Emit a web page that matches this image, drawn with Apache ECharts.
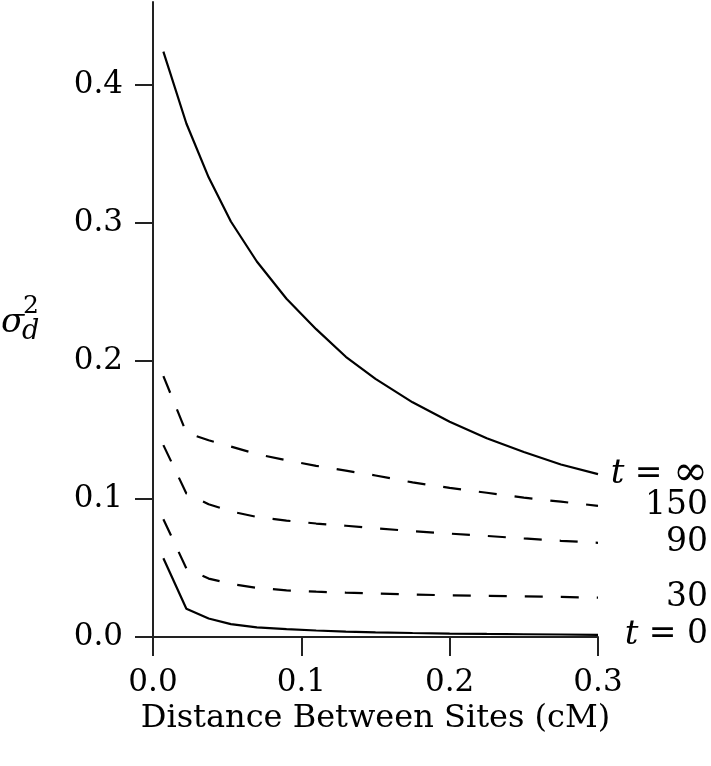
<!DOCTYPE html>
<html>
<head>
<meta charset="utf-8">
<script src="https://cdn.jsdelivr.net/npm/echarts@6/dist/echarts.min.js"></script>
<style>
html,body{margin:0;padding:0;background:#fff;}
#chart{width:711px;height:766px;}
</style>
</head>
<body>
<div id="chart"></div>
<script>
// Distance between sites (cM)
const distance = [0.007, 0.0225, 0.0375, 0.0525, 0.07, 0.09, 0.11, 0.13, 0.15, 0.175, 0.2, 0.225, 0.25, 0.275, 0.3];
// sigma_d^2 for each generation t
const tInf = [0.424, 0.372, 0.333, 0.301, 0.272, 0.245, 0.223, 0.203, 0.187, 0.170, 0.156, 0.144, 0.134, 0.125, 0.118];
const t150 = [0.189, 0.148, 0.1425, 0.138, 0.1325, 0.128, 0.124, 0.1205, 0.117, 0.112, 0.108, 0.1045, 0.101, 0.098, 0.095];
const t90  = [0.139, 0.104, 0.0962, 0.091, 0.087, 0.0843, 0.0822, 0.0806, 0.0788, 0.0767, 0.0749, 0.0732, 0.0714, 0.0697, 0.0682];
const t30  = [0.0853, 0.0497, 0.0423, 0.0385, 0.0356, 0.0338, 0.0328, 0.0321, 0.0315, 0.0308, 0.0302, 0.0298, 0.0294, 0.029, 0.0285];
const t0   = [0.057, 0.0205, 0.0134, 0.0093, 0.007, 0.0057, 0.0047, 0.0039, 0.0034, 0.0029, 0.0025, 0.0022, 0.002, 0.0018, 0.0016];
const yTicks = [0, 0.1, 0.2, 0.3, 0.4];
const xTicks = [0, 0.1, 0.2, 0.3];
const xTitle = 'Distance Between Sites (cM)';

const SERIF = '"DejaVu Serif", "Liberation Serif", serif';
const chart = echarts.init(document.getElementById('chart'), null, {renderer: 'canvas'});

function pairs(ys) { return distance.map((x, i) => [x, ys[i]]); }

const labelRich = {
  i: {fontFamily: SERIF, fontStyle: 'italic', fontSize: 34, color: '#000', align: 'right'},
  n: {fontFamily: SERIF, fontSize: 33, color: '#000', align: 'right'},
  inf: {fontFamily: SERIF, fontSize: 42, color: '#000', align: 'right'}
};
function mkSeries(name, ys, dashed, labelText) {
  return {
    name: name,
    type: 'line',
    data: pairs(ys),
    symbol: 'none',
    silent: true,
    lineStyle: {color: '#000', width: 2.2, type: dashed ? [18, 18] : 'solid'},
    endLabel: {
      show: true,
      distance: 10,
      width: 100,
      formatter: () => labelText,
      rich: labelRich
    }
  };
}

chart.setOption({
  animation: false,
  backgroundColor: '#fff',
  grid: {left: 153, right: 113, top: 2, bottom: 129, containLabel: false},
  xAxis: {
    type: 'value', min: 0, max: 0.3, interval: 0.1,
    name: xTitle, nameLocation: 'middle', nameGap: 62,
    nameTextStyle: {fontFamily: SERIF, fontSize: 32, color: '#000'},
    axisLine: {show: true, onZero: false, lineStyle: {color: '#222', width: 2}},
    axisTick: {show: true, length: 19, lineStyle: {color: '#222', width: 2}, customValues: xTicks},
    axisLabel: {margin: 30, fontFamily: SERIF, fontSize: 31, color: '#000', customValues: xTicks,
      formatter: v => v.toFixed(1)},
    splitLine: {show: false}
  },
  yAxis: {
    type: 'value', min: 0, max: 0.46, interval: 0.1,
    axisLine: {show: true, onZero: false, lineStyle: {color: '#222', width: 2}},
    axisTick: {show: true, length: 18, lineStyle: {color: '#222', width: 2}, customValues: yTicks},
    axisLabel: {margin: 30, fontFamily: SERIF, fontSize: 31, color: '#000', customValues: yTicks,
      formatter: v => v.toFixed(1)},
    splitLine: {show: false}
  },
  graphic: [
    {type: 'text', left: 1, top: 306, silent: true,
      style: {text: 'σ', font: 'italic 34px ' + SERIF, fill: '#000'}},
    {type: 'text', left: 23, top: 294, silent: true,
      style: {text: '2', font: '25px ' + SERIF, fill: '#000'}},
    {type: 'text', left: 22, top: 318, silent: true,
      style: {text: 'd', font: 'italic 27px ' + SERIF, fill: '#000'}}
  ],
  series: [
    mkSeries('t = ∞', tInf, false, '{i|t}{n| = }{inf|∞}'),
    mkSeries('150', t150, true, '{n|150}'),
    mkSeries('90', t90, true, '{n|90}'),
    mkSeries('30', t30, true, '{n|30}'),
    mkSeries('t = 0', t0, false, '{i|t}{n| = 0}')
  ]
});
</script>
</body>
</html>
